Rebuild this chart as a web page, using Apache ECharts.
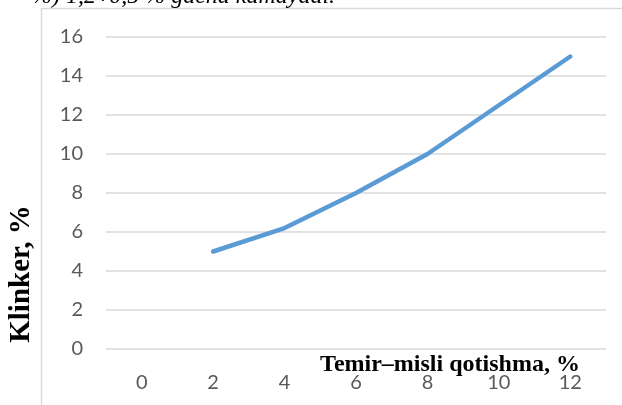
<!DOCTYPE html>
<html>
<head>
<meta charset="utf-8">
<script src="https://cdn.jsdelivr.net/npm/echarts@6/dist/echarts.min.js"></script>
<style>
  html, body { margin: 0; padding: 0; background: #fff; }
  #chart { width: 622px; height: 405px; }
</style>
</head>
<body>
<div id="chart"></div>
<script>
// values
var categories = ['0', '2', '4', '6', '8', '10', '12'];
var klinker = [null, 5, 6.2, 8, 10, 12.5, 15];
var xTitle = 'Temir\u2013misli qotishma, %';
var yTitle = 'Klinker, %';
var topLine = '%) 1,2\u00f70,5 % gacha kamayadi.';

var chart = echarts.init(document.getElementById('chart'));
var option = {
    backgroundColor: '#ffffff',
    animation: false,
    grid: { left: 106, right: 16, top: 37, bottom: 56 },
    xAxis: {
        type: 'category',
        data: categories,
        boundaryGap: true,
        axisLine: { show: false },
        axisTick: { show: false },
        axisLabel: { color: '#595959', fontSize: 20, fontFamily: 'Lato', margin: 24 }
    },
    yAxis: {
        type: 'value',
        min: 0,
        max: 16,
        interval: 2,
        axisLine: { show: false },
        axisTick: { show: false },
        axisLabel: { color: '#595959', fontSize: 20, fontFamily: 'Lato', margin: 23 },
        splitLine: { lineStyle: { color: '#d9d9d9', width: 1.5 } }
    },
    graphic: [
        {
            type: 'rect',
            shape: { x: 41.5, y: 8.5, width: 700, height: 500 },
            style: { fill: 'none', stroke: '#d9d9d9', lineWidth: 1.5 },
            z: -1
        },
        {
            type: 'text',
            x: 32, y: 9,
            style: {
                text: topLine,
                font: 'italic 24px "Liberation Serif"',
                fill: '#000',
                verticalAlign: 'bottom'
            }
        },
        {
            type: 'text',
            x: 450, y: 365,
            style: {
                text: xTitle,
                font: 'bold 24px "Liberation Serif"',
                fill: '#000',
                align: 'center',
                verticalAlign: 'middle'
            },
            z: 10
        },
        {
            type: 'text',
            x: 22, y: 274,
            rotation: Math.PI / 2,
            style: {
                text: yTitle,
                font: 'bold 29px "Liberation Serif"',
                fill: '#000',
                align: 'center',
                verticalAlign: 'middle'
            }
        }
    ],
    series: [{
        type: 'line',
        data: klinker,
        symbol: 'none',
        lineStyle: { color: '#5b9bd5', width: 4.5, cap: 'round', join: 'round' }
    }]
};
chart.setOption(option);
</script>
</body>
</html>
